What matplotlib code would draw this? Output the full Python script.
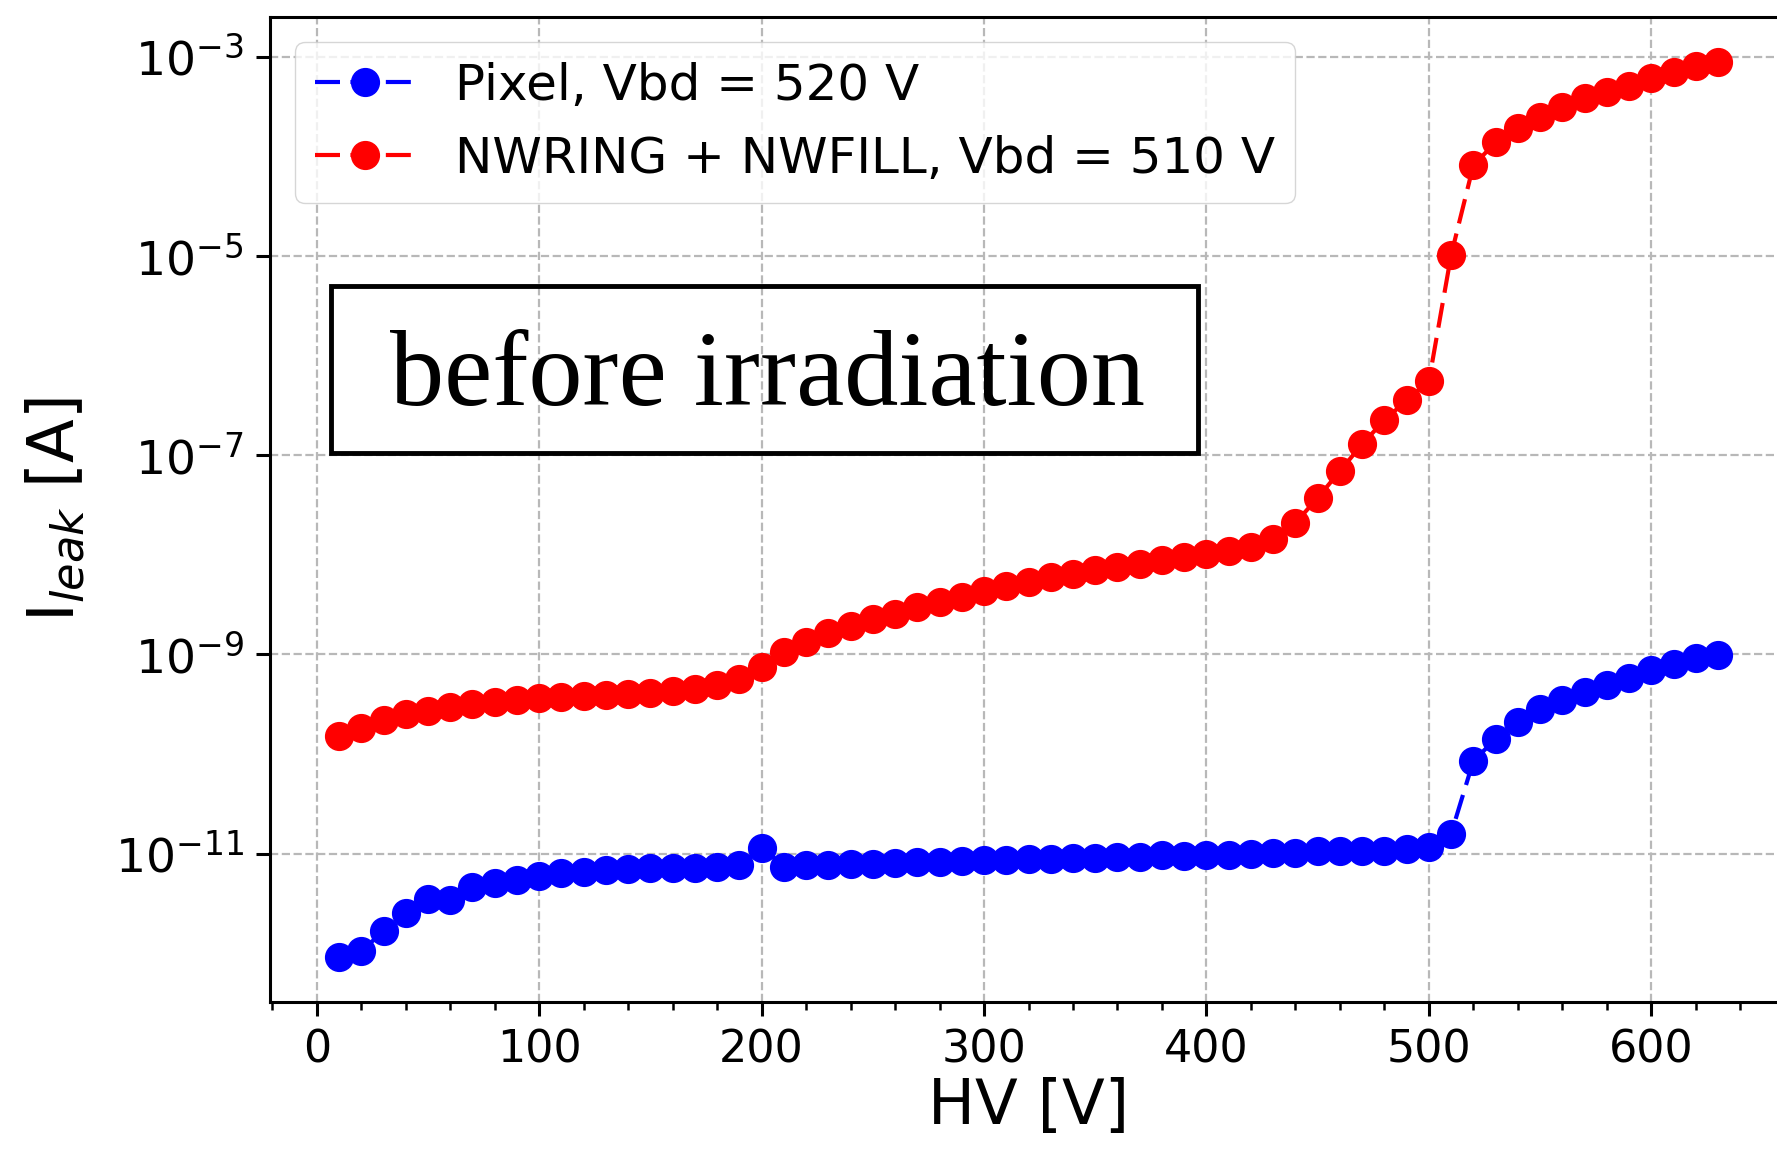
import matplotlib
matplotlib.use("Agg")
import matplotlib.pyplot as plt
from matplotlib.patches import Rectangle
from matplotlib.ticker import MultipleLocator, NullLocator

# bias voltage [V]
hv = list(range(10, 640, 10))

# leakage current [A]
pixel_ileak = [
    9.1e-13, 1.05e-12, 1.66e-12, 2.51e-12, 3.47e-12, 3.39e-12, 4.57e-12, 5.01e-12,
    5.37e-12, 5.89e-12, 6.31e-12, 6.46e-12, 6.76e-12, 6.92e-12, 7.08e-12, 7.24e-12,
    7.24e-12, 7.41e-12, 7.59e-12, 1.15e-11, 7.41e-12, 7.59e-12, 7.76e-12, 7.94e-12,
    7.94e-12, 8.13e-12, 8.32e-12, 8.32e-12, 8.51e-12, 8.71e-12, 8.71e-12, 8.91e-12,
    8.91e-12, 9.12e-12, 9.12e-12, 9.33e-12, 9.33e-12, 9.77e-12, 9.55e-12, 9.77e-12,
    9.77e-12, 1.00e-11, 1.02e-11, 1.02e-11, 1.05e-11, 1.05e-11, 1.07e-11, 1.07e-11,
    1.10e-11, 1.17e-11, 1.58e-11, 8.51e-11, 1.41e-10, 2.09e-10, 2.82e-10, 3.47e-10,
    4.17e-10, 4.90e-10, 5.75e-10, 6.92e-10, 7.94e-10, 9.12e-10, 9.77e-10,
]
nwring_ileak = [
    1.51e-10, 1.82e-10, 2.19e-10, 2.51e-10, 2.69e-10, 2.95e-10, 3.16e-10, 3.31e-10,
    3.47e-10, 3.63e-10, 3.72e-10, 3.80e-10, 3.89e-10, 3.98e-10, 4.07e-10, 4.27e-10,
    4.47e-10, 4.90e-10, 5.62e-10, 7.41e-10, 1.05e-9, 1.32e-9, 1.62e-9, 1.91e-9,
    2.29e-9, 2.57e-9, 3.02e-9, 3.39e-9, 3.80e-9, 4.37e-9, 4.90e-9, 5.37e-9,
    6.03e-9, 6.46e-9, 7.08e-9, 7.59e-9, 8.13e-9, 8.91e-9, 9.55e-9, 1.02e-8,
    1.10e-8, 1.20e-8, 1.45e-8, 2.09e-8, 3.72e-8, 6.92e-8, 1.29e-7, 2.24e-7,
    3.55e-7, 5.50e-7, 1.02e-5, 8.13e-5, 1.38e-4, 1.91e-4, 2.51e-4, 3.16e-4,
    3.89e-4, 4.47e-4, 5.13e-4, 6.17e-4, 7.08e-4, 8.13e-4, 8.91e-4,
]

labels = ["Pixel, Vbd = 520 V", "NWRING + NWFILL, Vbd = 510 V"]
yticks = [1e-3, 1e-5, 1e-7, 1e-9, 1e-11]

fig = plt.figure(figsize=(17.77, 11.54), dpi=100)
# the original is cropped on the right, so the axes run past the figure edge
ax = fig.add_axes([0.152, 0.1317, 0.8536, 0.8536])

style = dict(ls="--", marker="o", lw=3, ms=20, dashes=(6, 2.5))
ax.plot(hv, pixel_ileak, color="#0000ff", label=labels[0], **style)
ax.plot(hv, nwring_ileak, color="#ff0000", label=labels[1], **style)
ax.set_yscale("log")
ax.set_yticks(yticks)
ax.yaxis.set_minor_locator(NullLocator())
ax.xaxis.set_major_locator(MultipleLocator(100))
ax.xaxis.set_minor_locator(MultipleLocator(20))

ax.grid(True, which="major", ls="--", color="#b8b8b8", lw=1.6)
ax.tick_params(which="major", labelsize=32, length=10, width=2.2, pad=9)
ax.tick_params(axis="y", labelsize=34)
ax.tick_params(which="minor", length=6, width=1.8)
for s in ax.spines.values():
    s.set_linewidth(2.2)

ax.set_xlabel("HV [V]", fontsize=45, labelpad=4)
ax.set_ylabel("I$_{leak}$ [A]", fontsize=46, labelpad=20)
ax.legend(loc="upper left", fontsize=36, handlelength=2.0)

ax.add_patch(Rectangle((0.040, 0.557), 0.572, 0.170, transform=ax.transAxes,
                       fill=False, ec="black", lw=3.5, zorder=5))
ax.text(0.328, 0.606, "before irradiation", transform=ax.transAxes,
        family="Liberation Serif", fontsize=78, ha="center", va="baseline", zorder=5)

fig.savefig("out.png", dpi=100)
